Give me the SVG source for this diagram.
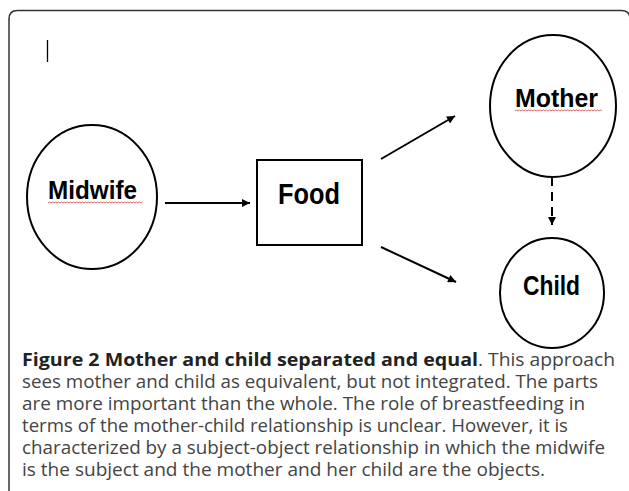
<svg xmlns="http://www.w3.org/2000/svg" width="629" height="491" viewBox="0 0 629 491">
<style>
.shape{fill:#fff;stroke:#000;stroke-width:2}
.lbl{font-family:"Liberation Sans",Arial,sans-serif;font-weight:bold;fill:#000}
.edge{stroke:#000;stroke-width:2;fill:none}
.cap{font-family:"Open Sans","Noto Sans",sans-serif;font-size:18px}
.capb{font-weight:bold;fill:#222}
.capr{fill:#444}
.squig{fill:none;stroke:#d04040;stroke-width:0.8}
</style>
<defs>
<marker id="ah" viewBox="0 0 10 10" refX="10" refY="5" markerWidth="4.5" markerHeight="4" orient="auto" markerUnits="strokeWidth">
<path d="M0,0 L10,5 L0,10 z" fill="#000"/>
</marker>
</defs>
<rect width="629" height="491" fill="#fff"/>
<path d="M9,491 V19 Q9,10.5 17.5,10.5 H621 Q630,10.5 630,19 V491" fill="none" stroke="#333" stroke-width="1.5"/>
<line x1="47.5" y1="40" x2="47.5" y2="62" stroke="#000" stroke-width="1.3"/>
<g id="connectors">
<line class="edge" x1="165" y1="203" x2="250" y2="203" marker-end="url(#ah)"/>
<line class="edge" x1="381" y1="159" x2="455" y2="116" marker-end="url(#ah)"/>
<line class="edge" x1="381" y1="247" x2="456" y2="282" marker-end="url(#ah)"/>
<line class="edge" x1="552" y1="177" x2="552" y2="225" stroke-dasharray="9 6" marker-end="url(#ah)"/>
</g>
<g id="midwife">
<ellipse class="shape" cx="92" cy="197" rx="65" ry="72"/>
<text class="lbl" x="48" y="199" font-size="26" textLength="89" lengthAdjust="spacingAndGlyphs">Midwife</text>
<path class="squig" d="M48,203 l1.5,-1 1.5,1 1.5,-1 1.5,1 1.5,-1 1.5,1 1.5,-1 1.5,1 1.5,-1 1.5,1 1.5,-1 1.5,1 1.5,-1 1.5,1 1.5,-1 1.5,1 1.5,-1 1.5,1 1.5,-1 1.5,1 1.5,-1 1.5,1 1.5,-1 1.5,1 1.5,-1 1.5,1 1.5,-1 1.5,1 1.5,-1 1.5,1 1.5,-1 1.5,1 1.5,-1 1.5,1 1.5,-1 1.5,1 1.5,-1 1.5,1 1.5,-1 1.5,1 1.5,-1 1.5,1 1.5,-1 1.5,1 1.5,-1 1.5,1 1.5,-1 1.5,1 1.5,-1 1.5,1 1.5,-1 1.5,1 1.5,-1 1.5,1 1.5,-1 1.5,1 1.5,-1 1.5,1 1.5,-1 1.5,1 1.5,-1 1.5,1 1.5,-1"/>
</g>
<g id="food">
<rect class="shape" x="257" y="160" width="105" height="85"/>
<text class="lbl" x="278" y="204" font-size="29" textLength="62" lengthAdjust="spacingAndGlyphs">Food</text>
</g>
<g id="mother">
<ellipse class="shape" cx="553" cy="106" rx="63" ry="71"/>
<text class="lbl" x="515" y="107" font-size="26" textLength="83" lengthAdjust="spacingAndGlyphs">Mother</text>
<path class="squig" d="M515,111 l1.5,-1 1.5,1 1.5,-1 1.5,1 1.5,-1 1.5,1 1.5,-1 1.5,1 1.5,-1 1.5,1 1.5,-1 1.5,1 1.5,-1 1.5,1 1.5,-1 1.5,1 1.5,-1 1.5,1 1.5,-1 1.5,1 1.5,-1 1.5,1 1.5,-1 1.5,1 1.5,-1 1.5,1 1.5,-1 1.5,1 1.5,-1 1.5,1 1.5,-1 1.5,1 1.5,-1 1.5,1 1.5,-1 1.5,1 1.5,-1 1.5,1 1.5,-1 1.5,1 1.5,-1 1.5,1 1.5,-1 1.5,1 1.5,-1 1.5,1 1.5,-1 1.5,1 1.5,-1 1.5,1 1.5,-1 1.5,1 1.5,-1 1.5,1 1.5,-1 1.5,1 1.5,-1 1.5,1"/>
</g>
<g id="child">
<ellipse class="shape" cx="552" cy="293" rx="52" ry="55"/>
<text class="lbl" x="523" y="295" font-size="28" textLength="57" lengthAdjust="spacingAndGlyphs">Child</text>
</g>
<g id="caption" class="cap">
<text class="capb" x="22" y="366" textLength="456" lengthAdjust="spacingAndGlyphs">Figure 2 Mother and child separated and equal</text>
<text class="capr" x="478" y="366" textLength="137" lengthAdjust="spacingAndGlyphs">. This approach</text>
<text class="capr" x="22" y="388" textLength="576" lengthAdjust="spacingAndGlyphs">sees mother and child as equivalent, but not integrated. The parts</text>
<text class="capr" x="22" y="410" textLength="563" lengthAdjust="spacingAndGlyphs">are more important than the whole. The role of breastfeeding in</text>
<text class="capr" x="22" y="432" textLength="546" lengthAdjust="spacingAndGlyphs">terms of the mother-child relationship is unclear. However, it is</text>
<text class="capr" x="22" y="454" textLength="583" lengthAdjust="spacingAndGlyphs">characterized by a subject-object relationship in which the midwife</text>
<text class="capr" x="22" y="476" textLength="523" lengthAdjust="spacingAndGlyphs">is the subject and the mother and her child are the objects.</text>
</g>
</svg>
